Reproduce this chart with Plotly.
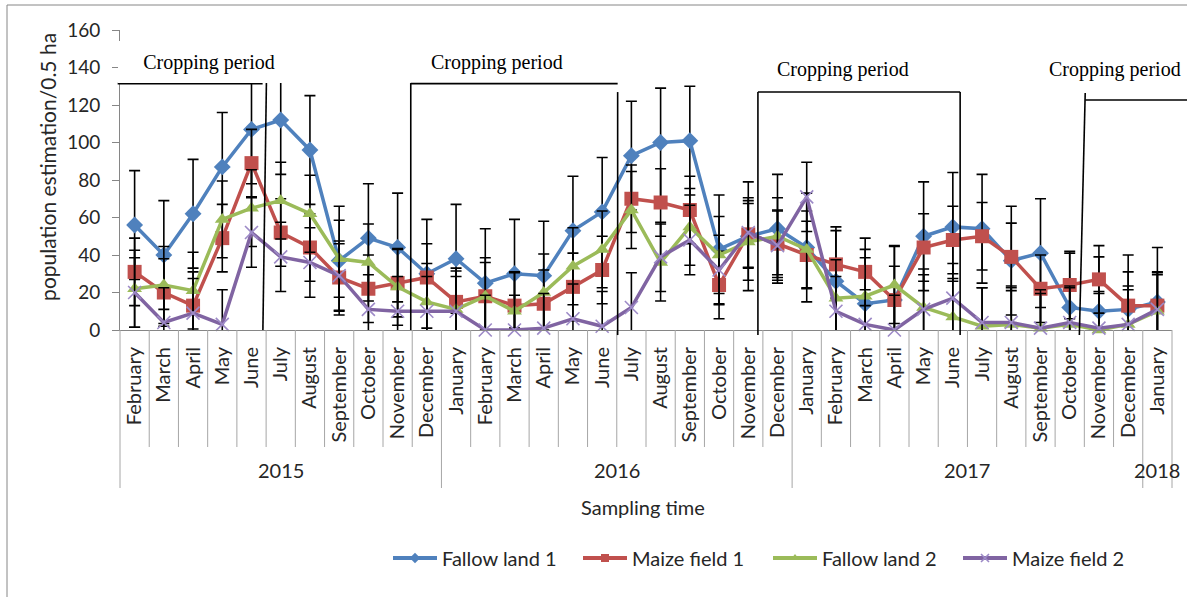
import plotly.graph_objects as go

# Sampling months (Feb 2015 - Jan 2018) and their year groups
months = ["February", "March", "April", "May", "June", "July", "August", "September",
          "October", "November", "December",
          "January", "February", "March", "April", "May", "June", "July", "August",
          "September", "October", "November", "December",
          "January", "February", "March", "April", "May", "June", "July", "August",
          "September", "October", "November", "December",
          "January"]
years = ["2015"] * 11 + ["2016"] * 12 + ["2017"] * 12 + ["2018"]

# Population estimates per 0.5 ha
fallow_land_1 = [56, 40, 62, 87, 107, 112, 96, 37, 49, 44, 30,
                 38, 25, 30, 29, 53, 63, 93, 100, 101, 43, 50, 54,
                 44, 26, 14, 16, 50, 55, 54, 37, 41, 12, 10, 11,
                 15]
maize_field_1 = [31, 20, 13, 49, 89, 52, 44, 28, 22, 25, 28,
                 15, 18, 13, 14, 23, 32, 70, 68, 64, 24, 51, 46,
                 40, 35, 31, 16, 44, 48, 50, 39, 22, 24, 27, 13,
                 13]
fallow_land_2 = [22, 24, 21, 59, 65, 69, 62, 38, 36, 23, 15,
                 11, 18, 10, 20, 34, 43, 64, 36, 55, 40, 47, 50,
                 43, 17, 18, 24, 12, 7, 2, 3, 1, 3, 0, 3,
                 10]
maize_field_2 = [20, 4, 9, 3, 52, 39, 36, 29, 11, 10, 10,
                 10, 0, 0, 1, 6, 2, 12, 39, 48, 32, 52, 45,
                 71, 10, 3, 0, 11, 17, 4, 4, 1, 4, 1, 3,
                 11]

# Standard deviation of each series (error bar half-length)
series_sd = [29, 18, 20.5, 18.5]

series_names = ["Fallow land 1", "Maize field 1", "Fallow land 2", "Maize field 2"]
series_values = [fallow_land_1, maize_field_1, fallow_land_2, maize_field_2]
line_colors = ["#4F81BD", "#C0504D", "#9BBB59", "#8064A2"]
marker_symbols = ["diamond", "square", "triangle-up", "x-thin"]
marker_sizes = [13, 14, 13, 13]

y_ticks = [0, 20, 40, 60, 80, 100, 120, 140, 160]
Y_MAX = 160

N = len(months)
x_idx = list(range(N))

FONT = "Lato"
TXT = "#262626"
GRID = "#A6A6A6"


def xp(i):
    """Paper x of a (fractional) category position."""
    return (i + 0.5) / N


def yp(v):
    """Paper y of a value on the y axis."""
    return v / Y_MAX


def marker_style(sym, col, size):
    if sym == "x-thin":
        return dict(symbol=sym, size=size, line=dict(color="#9D8AC7", width=1.6))
    return dict(symbol=sym, size=size, color=col, line=dict(width=0))


fig = go.Figure()

for name, vals, col, sym, size, sd in zip(series_names, series_values, line_colors,
                                          marker_symbols, marker_sizes, series_sd):
    # error bars (clipped at the axes)
    fig.add_trace(go.Scatter(
        x=x_idx, y=vals, mode="markers",
        marker=dict(size=1, opacity=0),
        error_y=dict(type="constant", value=sd, color="black", thickness=1.6, width=5.5),
        showlegend=False, hoverinfo="skip", cliponaxis=True,
    ))
    fig.add_trace(go.Scatter(
        x=x_idx, y=vals, name=name, mode="lines+markers",
        line=dict(color=col, width=3.5), marker=marker_style(sym, col, size),
        cliponaxis=False, showlegend=False,
    ))

# legend entries with small symbols
for name, col, sym in zip(series_names, line_colors, marker_symbols):
    fig.add_trace(go.Scatter(
        x=[None], y=[None], name=name, mode="lines+markers",
        line=dict(color=col, width=4), marker=marker_style(sym, col, 8),
        showlegend=True,
    ))

shapes = []
annotations = []

# category separators and year separators below the x axis
year_bounds = [-0.5, 10.5, 22.5, 34.5, 35.5]
for k in range(N + 1):
    b = k - 0.5
    is_year = b in year_bounds
    shapes.append(dict(type="line", xref="paper", yref="paper",
                       x0=xp(b), x1=xp(b), y0=0, y1=-158 / 300 if is_year else -117 / 300,
                       line=dict(color=GRID, width=1)))

# year labels
for lo, hi, yr in zip(year_bounds[:-1], year_bounds[1:], ["2015", "2016", "2017", "2018"]):
    annotations.append(dict(text=yr, xref="paper", yref="paper", x=xp((lo + hi) / 2),
                            y=-140 / 300, showarrow=False, xanchor="center", yanchor="middle",
                            font=dict(family=FONT, size=20, color=TXT)))

# cropping period brackets
black = dict(color="black", width=1.6)
brackets = [
    # (x0, y0, x1, y1) in category / value units
    (-0.58, 131.4, 4.38, 131.4), (4.51, 131.7, 4.39, 0),
    (9.45, 131.4, 16.53, 131.4), (9.45, 131.7, 9.45, 0), (16.53, 126.9, 16.53, -2.7),
    (21.33, 126.9, 28.25, 126.9), (21.33, 126.9, 21.33, -2.7), (28.25, 126.9, 28.25, -2.7),
    (32.53, 122.7, 36.1, 122.7), (32.53, 126.4, 32.33, -2.7),
]
for x0, y0, x1, y1 in brackets:
    shapes.append(dict(type="line", xref="paper", yref="paper", layer="above",
                       x0=xp(x0), y0=yp(y0), x1=xp(x1), y1=yp(y1), line=black))

# "Cropping period" labels; the first one sits in a white text box
label_pos = [(2.53, 142.9), (12.4, 142.4), (24.25, 138.7), (33.56, 138.7)]
for k, (cx, cy) in enumerate(label_pos):
    ann = dict(text="Cropping period", xref="paper", yref="paper",
               x=xp(cx), y=yp(cy), showarrow=False,
               xanchor="center", yanchor="middle",
               font=dict(family="Liberation Serif", size=20, color="black"))
    if k == 0:
        ann.update(width=182, height=42, bgcolor="white", borderpad=0, borderwidth=0,
                   align="center", valign="middle")
    annotations.append(ann)

# axis titles
annotations.append(dict(text="population estimation/0.5 ha", xref="paper", yref="paper",
                        x=-72 / 1052, y=yp(87), textangle=-90, showarrow=False,
                        xanchor="center", yanchor="middle",
                        font=dict(family=FONT, size=21, color=TXT)))
annotations.append(dict(text="Sampling time", xref="paper", yref="paper",
                        x=0.4975, y=-177 / 300, showarrow=False,
                        xanchor="center", yanchor="middle",
                        font=dict(family=FONT, size=20, color=TXT)))

# outer chart border
shapes.append(dict(type="rect", xref="paper", yref="paper",
                   x0=-113 / 1052, x1=1075 / 1052, y0=-280 / 300, y1=325 / 300,
                   line=dict(color="#868686", width=1), fillcolor="rgba(0,0,0,0)"))

fig.update_layout(
    width=1187, height=597,
    margin=dict(l=120, r=15, t=30, b=267, autoexpand=False),
    paper_bgcolor="white", plot_bgcolor="white",
    shapes=shapes, annotations=annotations,
    showlegend=True,
    legend=dict(orientation="h", x=268 / 1052, y=-228 / 300, xanchor="left", yanchor="middle",
                font=dict(family=FONT, size=20, color=TXT), itemwidth=44,
                entrywidth=131, bgcolor="rgba(0,0,0,0)"),
    xaxis=dict(range=[-0.5, N - 0.5], tickmode="array", tickvals=x_idx, ticktext=months,
               tickangle=-90, ticks="", showgrid=False, zeroline=False,
               showline=True, linecolor="#868686", linewidth=1,
               tickfont=dict(family=FONT, size=20, color=TXT), ticklabelstandoff=8),
    yaxis=dict(range=[0, Y_MAX], tickmode="array", tickvals=y_ticks,
               ticks="outside", ticklen=7, tickcolor="#868686", showgrid=False,
               zeroline=False, showline=True, linecolor="#868686", linewidth=1,
               tickfont=dict(family=FONT, size=19, color=TXT), ticklabelstandoff=8),
)

fig.write_html("out.html")
